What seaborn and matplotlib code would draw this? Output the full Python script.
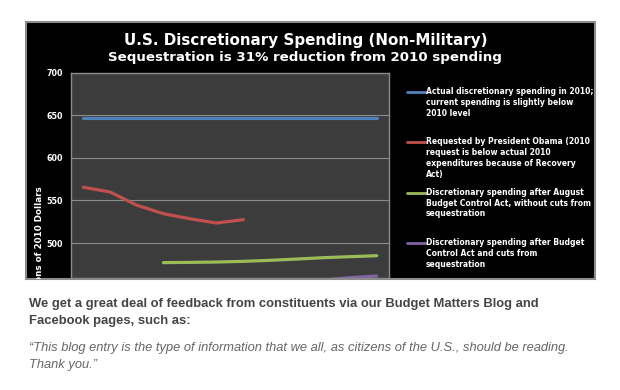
import matplotlib
matplotlib.use("Agg")
import matplotlib.pyplot as plt
from matplotlib.lines import Line2D
import seaborn as sns
import pandas as pd

# ---- data ----
years = list(range(2010, 2022))
actual_2010 = [647] * 12
obama_years = list(range(2010, 2017))
obama_request = [565.5, 560, 544.5, 534.5, 528.5, 523.5, 527.5]
bca_years = list(range(2013, 2022))
bca_no_seq = [477, 477.3, 477.7, 478.5, 479.7, 481.2, 482.8, 484, 485.1]
seq_years = list(range(2013, 2022))
bca_seq = [444, 446, 448, 450, 452, 454, 456.5, 459.3, 461.3]

series_names = [
    "Actual discretionary spending in 2010;\ncurrent spending is slightly below\n2010 level",
    "Requested by President Obama (2010\nrequest is below actual 2010\nexpenditures because of Recovery\nAct)",
    "Discretionary spending after August\nBudget Control Act, without cuts from\nsequestration",
    "Discretionary spending after Budget\nControl Act and cuts from\nsequestration",
]
colors = ["#4f81bd", "#c0504d", "#9bbb59", "#8064a2"]
yticks = [500, 550, 600, 650, 700]

title1 = "U.S. Discretionary Spending (Non-Military)"
title2 = "Sequestration is 31% reduction from 2010 spending"
ylabel = "Billions of 2010 Dollars"
para1 = "We get a great deal of feedback from constituents via our Budget Matters Blog and\nFacebook pages, such as:"
quote = "\u201cThis blog entry is the type of information that we all, as citizens of the U.S., should be reading.\nThank you.\u201d"

frames = []
for name, xs, ys in zip(series_names,
                        [years, obama_years, bca_years, seq_years],
                        [actual_2010, obama_request, bca_no_seq, bca_seq]):
    frames.append(pd.DataFrame({"year": xs, "value": ys, "series": name}))
df = pd.concat(frames, ignore_index=True)

sns.set_theme(style="white")
plt.rcParams["font.family"] = ["DejaVu Sans"]

W, H = 620, 390
fig = plt.figure(figsize=(6.2, 3.9), dpi=100, facecolor="white")

def box(l, t, r, b):
    return [l / W, 1 - b / H, (r - l) / W, (b - t) / H]

# black chart panel
bg = fig.add_axes(box(26, 22, 595, 279))
bg.set_facecolor("black")
bg.set_xticks([]); bg.set_yticks([])
for s in bg.spines.values():
    s.set_color("#8c8c8c"); s.set_linewidth(1.5)
bg.set_xlim(0, 1); bg.set_ylim(0, 1)

# titles
fig.text(305.5 / W, 1 - 40 / H, title1, ha="center", va="center", color="white",
         fontsize=10.9, fontweight="bold")
fig.text(305 / W, 1 - 57.5 / H, title2, ha="center", va="center", color="white",
         fontsize=9.65, fontweight="bold")

# y label clipped by the panel
bg.text((40 - 26) / (595 - 26), (279 - 244) / (279 - 22), ylabel, rotation=90,
        ha="center", va="center", color="white", fontsize=6.3, fontweight="bold",
        transform=bg.transAxes, clip_on=True)

# plot area
ax = fig.add_axes(box(71, 72.7, 389, 278.3))
ax.set_facecolor("#3c3c3c")
sns.lineplot(data=df, x="year", y="value", hue="series", palette=colors,
             hue_order=series_names, linewidth=2.3, ax=ax, legend=False,
             solid_capstyle="round")
ax.set_xlim(2009.54, 2021.46)
ax.set_ylim(458.6, 700)
ax.set_yticks(yticks)
ax.set_yticklabels([str(v) for v in yticks], color="white", fontsize=5.8,
                   fontweight="bold")
ax.set_xticks([])
ax.tick_params(axis="y", length=0, pad=6)
ax.grid(axis="y", color="#8a8a8a", linewidth=0.8)
ax.set_axisbelow(True)
ax.set_xlabel(""); ax.set_ylabel("")
for s in ax.spines.values():
    s.set_color("#8a8a8a"); s.set_linewidth(1)

# legend (custom layout)
entry_tops = [92.3, 142.3, 192.7, 243]
for name, col, yt in zip(series_names, colors, entry_tops):
    fig.add_artist(Line2D([407 / W, 426 / W], [1 - yt / H, 1 - yt / H],
                          color=col, linewidth=2.0, transform=fig.transFigure))
    fig.text(426 / W, 1 - (yt - 5) / H, name, ha="left", va="top", color="white",
             fontsize=5.5, fontweight="bold", linespacing=1.27)

# page text below
fig.text(29 / W, 1 - 298 / H, para1, ha="left", va="top", color="#444444",
         fontsize=9.4, family=["Liberation Sans", "DejaVu Sans"], fontweight="bold",
         linespacing=1.52)
fig.text(29 / W, 1 - 342 / H, quote, ha="left", va="top", color="#666666",
         fontsize=9.3, family=["Liberation Sans", "DejaVu Sans"], style="italic",
         linespacing=1.55)

fig.savefig("out.png", dpi=100, facecolor="white")
